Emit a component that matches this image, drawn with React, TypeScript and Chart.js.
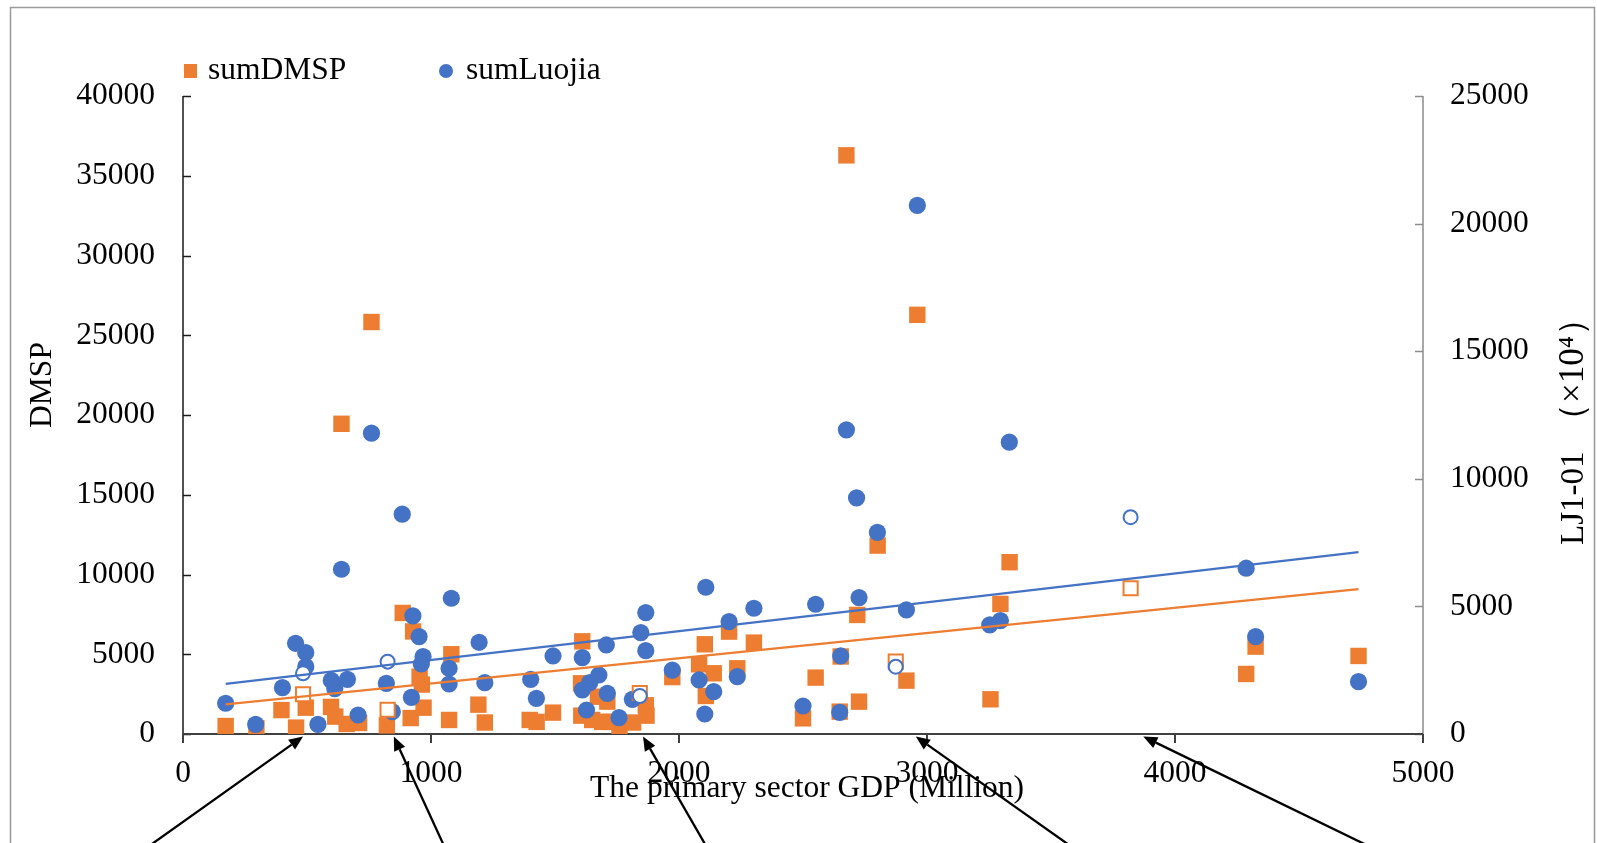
import { useEffect, useRef } from 'react';
import { Chart, registerables } from 'chart.js';

Chart.register(...registerables);

const W = 1597;
const H = 843;
const ORANGE = '#ED7D31';
const BLUE = '#4472C4';
const FONT = "'Liberation Serif', 'Times New Roman', serif";
const FONT_SIZE = 31.5;

// Primary-sector GDP (Million) against summed DMSP radiance
const dmspGdp = [
  172, 296, 397, 456, 495, 597, 614, 660, 710, 822, 886, 928, 918, 954, 963, 970,
  1082, 1073, 1191, 1217, 1398, 1426, 1492, 1610, 1606, 1650, 1690, 1727, 1760, 1673,
  1711, 1605, 1815, 1866, 1869, 1973, 2104, 2081, 2140, 2108, 2202, 2302, 2235, 2652,
  2551, 2917, 2719, 2500, 2648, 2726, 2675, 2961, 2801, 3333, 3296, 3256, 4325, 4287,
  4740, 760, 639,
];
const dmspSum = [
  500, 360, 1500, 400, 1650, 1700, 1090, 630, 690, 540, 7590, 6430, 1000, 3596, 3100, 1650,
  5000, 880, 1840, 720, 880, 760, 1340, 5810, 1150, 880, 760, 760, 400, 2340,
  2030, 3180, 720, 1800, 1150, 3570, 5625, 4370, 3806, 2384, 6419, 5729, 4119, 4860,
  3534, 3346, 7465, 983, 1401, 2028, 36280, 26280, 11813, 10771, 8155, 2175, 5478, 3764,
  4893, 25830, 19450,
];

// Primary-sector GDP (Million) against summed Luojia 1-01 radiance (×10^4)
const luojiaGdp = [
  172, 293, 401, 454, 495, 495, 544, 598, 612, 663, 706, 820, 844, 927, 952, 968,
  961, 921, 1082, 1073, 1073, 1194, 1217, 1402, 1425, 1492, 1610, 1610, 1640, 1677,
  1627, 1707, 1711, 1758, 1812, 1846, 1866, 1866, 1973, 2108, 2202, 2302, 2081, 2140,
  2104, 2235, 2551, 2726, 2917, 2652, 2500, 2648, 2800, 3253, 3296, 4287, 4325, 4740,
  760, 884, 639, 2961, 2675, 2716, 3332,
];
const luojiaSum = [
  1204, 380, 1815, 3555, 3188, 2639, 380, 2100, 1780, 2143, 745, 1986, 876, 4626, 3816, 3032,
  2744, 1438, 5319, 2575, 1960, 3594, 2013, 2143, 1398, 3058, 2993, 1725, 2013, 2313,
  941, 3489, 1594, 640, 1359, 3973, 4757, 3267, 2500, 5751, 4404, 4927, 2117, 1659,
  784, 2248, 5084, 5345, 4862, 3058, 1098, 850, 7900, 4273, 4443, 6496, 3816, 2052,
  11788, 8613, 6456, 20713, 11919, 9250, 11436,
];

// Highlighted districts (open markers)
const highlightGdp = [484, 825, 1842, 2874, 3821];
const highlightDmsp = [2490, 1520, 2570, 4537, 9140];
const highlightLuojia = [2379, 2836, 1490, 2639, 8496];

// Linear trend lines, end points
const trendGdp = [172, 4740];
const trendDmsp = [1860, 9077];
const trendLuojia = [1960, 7124];

// Call-out arrows: tip on the GDP axis, tail running off the bottom edge
const arrowTipGdp = [484, 850, 1855, 2955, 3872];
const arrowTailGdp = [-131, 1051, 2107, 3573, 4772];

const xTicks = [0, 1000, 2000, 3000, 4000, 5000];
const leftTicks = [0, 5000, 10000, 15000, 20000, 25000, 30000, 35000, 40000];
const rightTicks = [0, 5000, 10000, 15000, 20000, 25000];

const zip = (xs: number[], ys: number[]) => xs.map((x, i) => ({ x, y: ys[i] }));
const plain = (v: any) => String(v);

const decorPlugin = {
  id: 'decor',
  beforeDraw(chart: any) {
    const { ctx } = chart;
    ctx.save();
    ctx.fillStyle = '#ffffff';
    ctx.fillRect(0, 0, W, H);
    ctx.restore();
  },
  beforeDatasetsDraw(chart: any) {
    const { ctx, chartArea, scales } = chart;
    const { left, right, top, bottom } = chartArea;
    const tick = 8;
    ctx.save();
    // left axis
    ctx.strokeStyle = '#1a1a1a';
    ctx.lineWidth = 1.5;
    ctx.beginPath();
    ctx.moveTo(left, top);
    ctx.lineTo(left, bottom);
    leftTicks.forEach((v) => {
      const y = Math.round(scales.y.getPixelForValue(v)) + 0.5;
      ctx.moveTo(left, y);
      ctx.lineTo(left + tick, y);
    });
    ctx.stroke();
    // right axis
    ctx.strokeStyle = '#8c8c8c';
    ctx.lineWidth = 1.5;
    ctx.beginPath();
    ctx.moveTo(right, top);
    ctx.lineTo(right, bottom);
    rightTicks.forEach((v) => {
      const y = Math.round(scales.y1.getPixelForValue(v)) + 0.5;
      ctx.moveTo(right, y);
      ctx.lineTo(right - tick, y);
    });
    ctx.stroke();
    // x axis
    ctx.strokeStyle = '#404040';
    ctx.lineWidth = 2;
    ctx.beginPath();
    ctx.moveTo(left, bottom);
    ctx.lineTo(right, bottom);
    xTicks.forEach((v) => {
      const x = scales.x.getPixelForValue(v);
      ctx.moveTo(x, bottom);
      ctx.lineTo(x, bottom + tick + 1);
    });
    ctx.stroke();
    ctx.restore();
  },
  afterDraw(chart: any) {
    const { ctx, chartArea, scales } = chart;
    ctx.save();
    // outer frame
    ctx.strokeStyle = '#9a9a9a';
    ctx.lineWidth = 1.5;
    ctx.strokeRect(10.5, 7.5, W - 13, H + 100);

    // legend
    ctx.fillStyle = ORANGE;
    ctx.fillRect(184, 64, 13, 14);
    ctx.fillStyle = BLUE;
    ctx.beginPath();
    ctx.arc(446, 71, 7, 0, Math.PI * 2);
    ctx.fill();
    ctx.fillStyle = '#000';
    ctx.font = `${FONT_SIZE}px ${FONT}`;
    ctx.textBaseline = 'middle';
    ctx.textAlign = 'left';
    ctx.fillText('sumDMSP', 208, 71);
    ctx.fillText('sumLuojia', 466, 71);

    // axis titles
    ctx.textAlign = 'center';
    ctx.fillText('The primary sector GDP (Million)', (chartArea.left + chartArea.right) / 2 + 4, 789);
    ctx.save();
    ctx.translate(43, 385);
    ctx.rotate(-Math.PI / 2);
    ctx.fillText('DMSP', 0, 0);
    ctx.restore();

    // right title: "LJ1-01" followed by the unit in full-width brackets
    ctx.save();
    ctx.translate(1574, 545);
    ctx.rotate(-Math.PI / 2);
    ctx.textAlign = 'left';
    ctx.font = `33px ${FONT}`;
    ctx.fillText('LJ1-01', 0, 0);
    ctx.font = `35px ${FONT}`;
    ctx.fillText('（×10⁴）', 107, 0);
    ctx.restore();

    // call-out arrows
    ctx.strokeStyle = '#000';
    ctx.fillStyle = '#000';
    ctx.lineWidth = 2.3;
    arrowTipGdp.forEach((g, i) => {
      const tx = scales.x.getPixelForValue(g);
      const ty = chartArea.bottom + 2.5;
      const sx = scales.x.getPixelForValue(arrowTailGdp[i]);
      const sy = H + 2;
      const ang = Math.atan2(ty - sy, tx - sx);
      const headLen = 14;
      const headHalf = 6;
      const bx = tx - Math.cos(ang) * headLen;
      const by = ty - Math.sin(ang) * headLen;
      ctx.beginPath();
      ctx.moveTo(sx, sy);
      ctx.lineTo(bx, by);
      ctx.stroke();
      ctx.beginPath();
      ctx.moveTo(tx, ty);
      ctx.lineTo(bx + Math.sin(ang) * headHalf, by - Math.cos(ang) * headHalf);
      ctx.lineTo(bx - Math.sin(ang) * headHalf, by + Math.cos(ang) * headHalf);
      ctx.closePath();
      ctx.fill();
    });
    ctx.restore();
  },
};

export default function App() {
  const canvasRef = useRef<HTMLCanvasElement | null>(null);

  useEffect(() => {
    const canvas = canvasRef.current;
    if (!canvas) return;
    const tickFont = { family: FONT, size: FONT_SIZE };
    const chart = new Chart(canvas, {
      type: 'scatter',
      data: {
        datasets: [
          {
            label: 'Trend Luojia',
            data: zip(trendGdp, trendLuojia),
            yAxisID: 'y1',
            showLine: true,
            borderColor: BLUE,
            borderWidth: 2.3,
            pointRadius: 0,
            order: 1,
          },
          {
            label: 'Trend DMSP',
            data: zip(trendGdp, trendDmsp),
            yAxisID: 'y',
            showLine: true,
            borderColor: ORANGE,
            borderWidth: 2.3,
            pointRadius: 0,
            order: 2,
          },
          {
            label: 'sumLuojia (highlighted)',
            data: zip(highlightGdp, highlightLuojia),
            yAxisID: 'y1',
            pointStyle: 'circle',
            pointRadius: 7,
            pointBackgroundColor: '#ffffff',
            pointBorderColor: BLUE,
            pointBorderWidth: 2,
            order: 3,
          },
          {
            label: 'sumDMSP (highlighted)',
            data: zip(highlightGdp, highlightDmsp),
            yAxisID: 'y',
            pointStyle: 'rect',
            pointRadius: 10,
            pointBackgroundColor: '#ffffff',
            pointBorderColor: ORANGE,
            pointBorderWidth: 2,
            order: 4,
          },
          {
            label: 'sumLuojia',
            data: zip(luojiaGdp, luojiaSum),
            yAxisID: 'y1',
            pointStyle: 'circle',
            pointRadius: 8.6,
            pointBackgroundColor: BLUE,
            pointBorderColor: BLUE,
            pointBorderWidth: 0,
            order: 5,
          },
          {
            label: 'sumDMSP',
            data: zip(dmspGdp, dmspSum),
            yAxisID: 'y',
            pointStyle: 'rect',
            pointRadius: 11.6,
            pointBackgroundColor: ORANGE,
            pointBorderColor: ORANGE,
            pointBorderWidth: 0,
            order: 6,
          },
        ],
      },
      options: {
        responsive: false,
        animation: false,
        events: [],
        layout: { padding: { top: 96, left: 0, right: 0, bottom: 0 } },
        plugins: {
          legend: { display: false },
          tooltip: { enabled: false },
          title: { display: false },
        },
        scales: {
          x: {
            type: 'linear',
            position: 'bottom',
            min: 0,
            max: 5000,
            afterFit: (s: any) => {
              s.height = 109;
            },
            afterBuildTicks: (s: any) => {
              s.ticks = xTicks.map((v) => ({ value: v }));
            },
            grid: { display: false, drawTicks: false },
            border: { display: false },
            ticks: { font: tickFont, color: '#000', padding: 21, autoSkip: false, maxRotation: 0, callback: plain },
          },
          y: {
            type: 'linear',
            position: 'left',
            min: 0,
            max: 40000,
            afterFit: (s: any) => {
              s.width = 183;
            },
            afterBuildTicks: (s: any) => {
              s.ticks = leftTicks.map((v) => ({ value: v }));
            },
            grid: { display: false, drawTicks: false },
            border: { display: false },
            ticks: { font: tickFont, color: '#000', padding: 28, autoSkip: false, callback: plain },
          },
          y1: {
            type: 'linear',
            position: 'right',
            min: 0,
            max: 25000,
            afterFit: (s: any) => {
              s.width = 174;
            },
            afterBuildTicks: (s: any) => {
              s.ticks = rightTicks.map((v) => ({ value: v }));
            },
            grid: { display: false, drawTicks: false },
            border: { display: false },
            ticks: { font: tickFont, color: '#000', padding: 27, autoSkip: false, callback: plain },
          },
        },
      },
      plugins: [decorPlugin],
    });
    return () => chart.destroy();
  }, []);

  return (
    <div style={{ position: 'fixed', left: 0, top: 0, width: W, height: H, background: '#fff' }}>
      <canvas ref={canvasRef} width={W} height={H} style={{ display: 'block', width: W, height: H }} />
    </div>
  );
}
